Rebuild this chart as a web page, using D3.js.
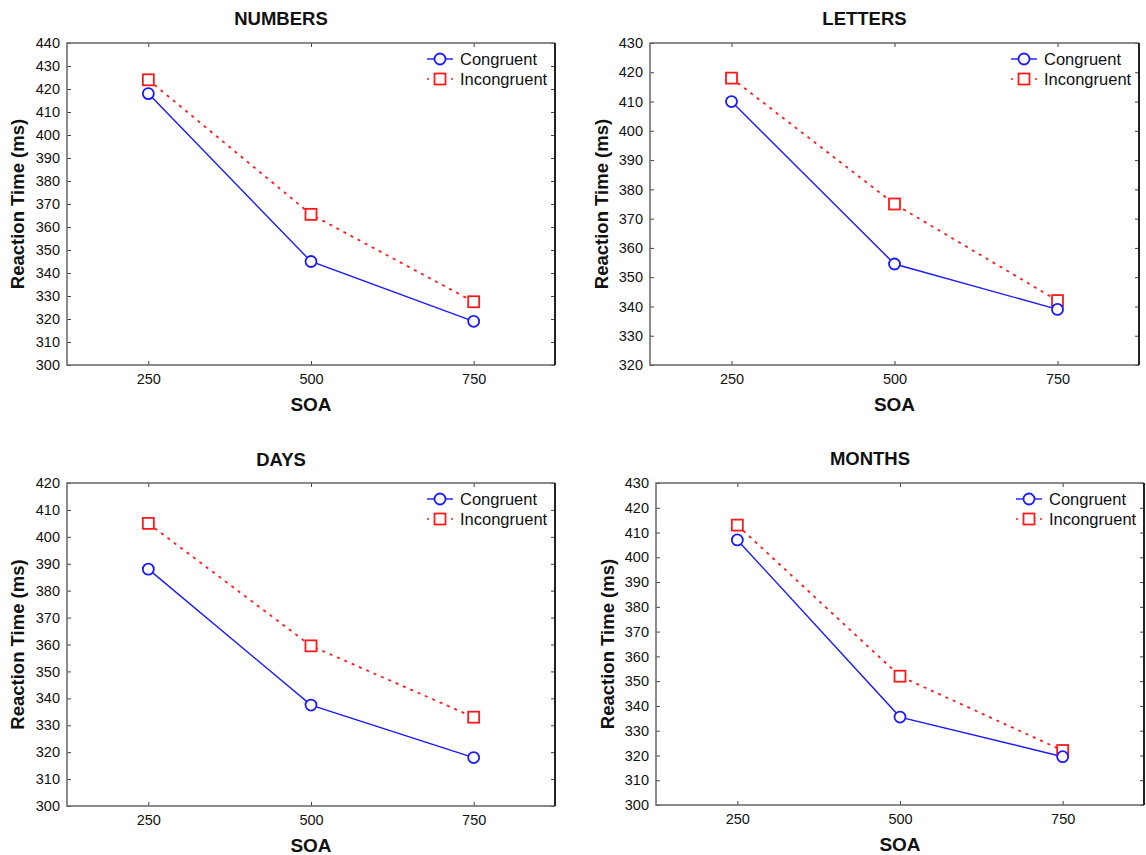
<!DOCTYPE html>
<html>
<head>
<meta charset="utf-8">
<script src="https://cdn.jsdelivr.net/npm/d3@7/dist/d3.min.js"></script>
<style>
  body { margin: 0; background: #fff; }
  text { font-family: "Liberation Sans", Arial, Helvetica, sans-serif; fill: #111; }
</style>
</head>
<body>
<svg id="chart" width="1146" height="855"></svg>
<script>
// ---------- DATA ----------
const soaCategories = [250, 500, 750];
const panelTitles = ["NUMBERS", "LETTERS", "DAYS", "MONTHS"];
const seriesNames = ["Congruent", "Incongruent"];

const numbersCongruent   = [418, 345, 319];
const numbersIncongruent = [424, 365.5, 327.5];
const lettersCongruent   = [410, 354.5, 339];
const lettersIncongruent = [418, 375, 342];
const daysCongruent      = [388, 337.5, 318];
const daysIncongruent    = [405, 359.5, 333];
const monthsCongruent    = [407, 335.5, 319.5];
const monthsIncongruent  = [413, 352, 322];

const numbersYTicks = [300, 310, 320, 330, 340, 350, 360, 370, 380, 390, 400, 410, 420, 430, 440];
const lettersYTicks = [320, 330, 340, 350, 360, 370, 380, 390, 400, 410, 420, 430];
const daysYTicks    = [300, 310, 320, 330, 340, 350, 360, 370, 380, 390, 400, 410, 420];
const monthsYTicks  = [300, 310, 320, 330, 340, 350, 360, 370, 380, 390, 400, 410, 420, 430];

const xAxisTitle = "SOA";
const yAxisTitle = "Reaction Time (ms)";

// ---------- LAYOUT ----------
const panels = [
  { title: panelTitles[0], cong: numbersCongruent, incong: numbersIncongruent, yTicks: numbersYTicks,
    box: { left: 67, top: 43, right: 555, bottom: 365 }, ylabX: 18, titleY: 25 },
  { title: panelTitles[1], cong: lettersCongruent, incong: lettersIncongruent, yTicks: lettersYTicks,
    box: { left: 650, top: 43, right: 1139, bottom: 365 }, ylabX: 602, titleY: 25 },
  { title: panelTitles[2], cong: daysCongruent, incong: daysIncongruent, yTicks: daysYTicks,
    box: { left: 67, top: 483, right: 555, bottom: 806 }, ylabX: 18, titleY: 466 },
  { title: panelTitles[3], cong: monthsCongruent, incong: monthsIncongruent, yTicks: monthsYTicks,
    box: { left: 656, top: 483, right: 1144, bottom: 805 }, ylabX: 608, titleY: 465 }
];

const BLUE = "#1a1aff";
const RED = "#ff1a1a";
const svg = d3.select("#chart");

panels.forEach(p => {
  const b = p.box;
  const g = svg.append("g");
  const x = d3.scaleLinear().domain([125, 875]).range([b.left, b.right]);
  const y = d3.scaleLinear().domain(d3.extent(p.yTicks)).range([b.bottom, b.top]);

  // axes with inward ticks
  const ax = (axis, tr) => {
    const a = g.append("g").attr("transform", tr).call(axis);
    a.select(".domain").remove();
    a.selectAll(".tick line").attr("stroke", "#444").attr("stroke-width", 1);
    a.selectAll(".tick text").style("font-size", "14.5px").style("font-family", "Liberation Sans, Arial, sans-serif").attr("fill", "#111");
    return a;
  };
  ax(d3.axisBottom(x).tickValues(soaCategories).tickSizeInner(-4).tickSizeOuter(0).tickPadding(9).tickFormat(d3.format("d")),
     `translate(0,${b.bottom})`);
  ax(d3.axisTop(x).tickValues(soaCategories).tickSizeInner(-4).tickSizeOuter(0).tickFormat(""),
     `translate(0,${b.top})`);
  ax(d3.axisLeft(y).tickValues(p.yTicks).tickSizeInner(-4).tickSizeOuter(0).tickPadding(7).tickFormat(d3.format("d")),
     `translate(${b.left},0)`);
  ax(d3.axisRight(y).tickValues(p.yTicks).tickSizeInner(-4).tickSizeOuter(0).tickFormat(""),
     `translate(${b.right},0)`);

  // frame
  g.append("path").attr("d", `M${b.right},${b.top}H${b.left}V${b.bottom}H${b.right}`)
    .attr("fill", "none").attr("stroke", "#666").attr("stroke-width", 1.5);
  g.append("line").attr("x1", b.right).attr("x2", b.right).attr("y1", b.top).attr("y2", b.bottom)
    .attr("stroke", "#222").attr("stroke-width", 2);

  const line = d3.line().x((d, i) => x(soaCategories[i])).y(d => y(d));

  // incongruent
  g.append("path").datum(p.incong).attr("d", line).attr("fill", "none")
    .attr("stroke", RED).attr("stroke-width", 1.8).attr("stroke-dasharray", "3,5");
  // congruent
  g.append("path").datum(p.cong).attr("d", line).attr("fill", "none")
    .attr("stroke", BLUE).attr("stroke-width", 1.4);

  g.selectAll(".sq").data(p.incong).join("rect")
    .attr("x", (d, i) => x(soaCategories[i]) - 5.5).attr("y", d => y(d) - 5.5)
    .attr("width", 11).attr("height", 11).attr("fill", "#fff")
    .attr("stroke", RED).attr("stroke-width", 1.8);
  g.selectAll(".ci").data(p.cong).join("circle")
    .attr("cx", (d, i) => x(soaCategories[i])).attr("cy", d => y(d)).attr("r", 5.5)
    .attr("fill", "#fff").attr("stroke", BLUE).attr("stroke-width", 1.8);

  // titles
  g.append("text").attr("x", (b.left + b.right) / 2 - 30).attr("y", p.titleY)
    .attr("text-anchor", "middle").style("font-weight", "bold").style("font-size", "18.5px").text(p.title);
  g.append("text").attr("x", (b.left + b.right) / 2).attr("y", b.bottom + 46)
    .attr("text-anchor", "middle").style("font-weight", "bold").style("font-size", "19px").text(xAxisTitle);
  g.append("text").attr("transform", `translate(${p.ylabX},${(b.top + b.bottom) / 2}) rotate(-90)`)
    .attr("text-anchor", "middle").attr("dy", "0.35em")
    .style("font-weight", "bold").style("font-size", "18.5px").text(yAxisTitle);

  // legend
  const mx = b.right - 115, my = b.top + 16;
  const lg = g.append("g");
  lg.append("line").attr("x1", mx - 13).attr("x2", mx + 13).attr("y1", my).attr("y2", my)
    .attr("stroke", BLUE).attr("stroke-width", 1.4);
  lg.append("circle").attr("cx", mx).attr("cy", my).attr("r", 5.5)
    .attr("fill", "#fff").attr("stroke", BLUE).attr("stroke-width", 1.8);
  lg.append("text").attr("x", mx + 20).attr("y", my).attr("dy", "0.35em")
    .style("font-size", "16.5px").text(seriesNames[0]);
  const my2 = my + 20;
  lg.append("line").attr("x1", mx - 13).attr("x2", mx + 13).attr("y1", my2).attr("y2", my2)
    .attr("stroke", RED).attr("stroke-width", 1.6).attr("stroke-dasharray", "2,22");
  lg.append("rect").attr("x", mx - 5.5).attr("y", my2 - 5.5).attr("width", 11).attr("height", 11)
    .attr("fill", "#fff").attr("stroke", RED).attr("stroke-width", 1.8);
  lg.append("text").attr("x", mx + 20).attr("y", my2).attr("dy", "0.35em")
    .style("font-size", "16.5px").text(seriesNames[1]);
});
</script>
</body>
</html>
